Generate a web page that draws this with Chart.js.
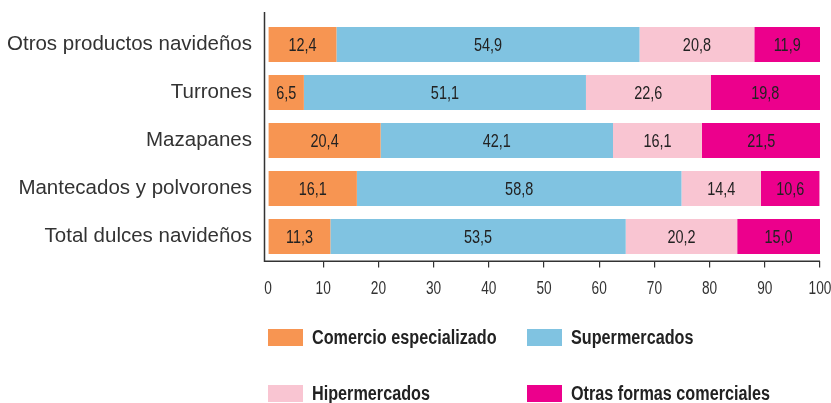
<!DOCTYPE html>
<html>
<head>
<meta charset="utf-8">
<script src="https://cdn.jsdelivr.net/npm/chart.js@4"></script>
<style>
html,body{margin:0;padding:0;background:#fff;}
#wrap{width:831px;height:403px;position:relative;}
</style>
</head>
<body>
<div id="wrap"><canvas id="c" width="831" height="403"></canvas></div>
<script>
const categories = ["Otros productos navideños", "Turrones", "Mazapanes", "Mantecados y polvorones", "Total dulces navideños"];
const seriesNames = ["Comercio especializado", "Supermercados", "Hipermercados", "Otras formas comerciales"];
const comercioEspecializado = [12.4, 6.5, 20.4, 16.1, 11.3];
const supermercados = [54.9, 51.1, 42.1, 58.8, 53.5];
const hipermercados = [20.8, 22.6, 16.1, 14.4, 20.2];
const otrasFormas = [11.9, 19.8, 21.5, 10.6, 15.0];
const xTicks = [0, 10, 20, 30, 40, 50, 60, 70, 80, 90, 100];

const colors = ["#F79552", "#80C3E1", "#F9C5D2", "#EC008C"];
const seriesValues = [comercioEspecializado, supermercados, hipermercados, otrasFormas];

const SANS = "'Liberation Sans', Arial, sans-serif";

// draw horizontally condensed text (imitates a condensed typeface)
function narrowText(ctx, text, x, y, align, squeeze) {
  ctx.save();
  ctx.translate(x, y);
  ctx.scale(squeeze, 1);
  ctx.textAlign = align;
  ctx.fillText(text, 0, 0);
  ctx.restore();
}

const dataLabels = {
  id: 'dataLabels',
  afterDatasetsDraw(chart) {
    const ctx = chart.ctx;
    ctx.save();
    ctx.font = "19px " + SANS;
    ctx.fillStyle = "#222";
    ctx.textBaseline = "middle";
    chart.data.datasets.forEach((ds, i) => {
      const meta = chart.getDatasetMeta(i);
      meta.data.forEach((bar, j) => {
        const v = ds.data[j];
        const cx = (bar.x + bar.base) / 2;
        narrowText(ctx, v.toFixed(1).replace('.', ','), cx, bar.y + 1, 'center', 0.76);
      });
    });
    ctx.restore();
  }
};

const axisPlugin = {
  id: 'axisLines',
  afterDraw(chart) {
    const ctx = chart.ctx;
    const a = chart.chartArea;
    const xs = chart.scales.x;
    ctx.save();
    ctx.strokeStyle = "#333";
    ctx.lineWidth = 1.5;
    ctx.beginPath();
    ctx.moveTo(a.left - 3.5, 12);
    ctx.lineTo(a.left - 3.5, a.bottom + 0.75);
    ctx.lineTo(a.right, a.bottom + 0.75);
    ctx.stroke();
    // x tick labels
    ctx.font = "18px " + SANS;
    ctx.fillStyle = "#333";
    ctx.textBaseline = "middle";
    xs.ticks.forEach((t, i) => {
      const px = xs.getPixelForTick(i);
      narrowText(ctx, String(t.value), px, a.bottom + 29, 'center', 0.76);
    });
    ctx.restore();
  }
};

const legendPlugin = {
  id: 'customLegend',
  afterDraw(chart) {
    const ctx = chart.ctx;
    const colX = [268, 527];
    const rowY = [329, 385];
    ctx.save();
    ctx.font = "bold 20px " + SANS;
    ctx.textBaseline = "middle";
    chart.data.datasets.forEach((ds, i) => {
      const x = colX[i % 2];
      const y = rowY[Math.floor(i / 2)];
      ctx.fillStyle = ds.backgroundColor;
      ctx.fillRect(x, y, 35, 17);
      ctx.fillStyle = "#222";
      narrowText(ctx, ds.label, x + 44, y + 9, 'left', 0.81);
    });
    ctx.restore();
  }
};

new Chart(document.getElementById('c'), {
  type: 'bar',
  data: {
    labels: categories,
    datasets: seriesNames.map((name, i) => ({
      label: name,
      data: seriesValues[i],
      backgroundColor: colors[i],
      borderWidth: 0,
      barPercentage: 35 / 48,
      categoryPercentage: 1
    }))
  },
  options: {
    indexAxis: 'y',
    responsive: false,
    animation: false,
    layout: { padding: { top: 20.5, right: 11, left: 0, bottom: 0 } },
    plugins: { legend: { display: false }, tooltip: { enabled: false } },
    scales: {
      x: {
        stacked: true,
        min: 0,
        max: 100,
        afterBuildTicks(scale) { scale.ticks = xTicks.map(v => ({ value: v })); },
        afterFit(scale) { scale.height = 142.5; scale.paddingLeft = 0; scale.paddingRight = 0; },
        border: { display: false },
        grid: {
          drawOnChartArea: false,
          drawTicks: true,
          tickLength: 7,
          color: (c) => c.index === 0 ? 'rgba(0,0,0,0)' : '#333',
          lineWidth: 1.2
        },
        ticks: { display: false }
      },
      y: {
        stacked: true,
        afterFit(scale) { scale.width = 268; scale.paddingTop = 0; scale.paddingBottom = 0; },
        border: { display: false },
        grid: { display: false, drawTicks: false },
        ticks: {
          font: { family: SANS, size: 20.5 },
          color: '#333',
          padding: 16
        }
      }
    }
  },
  plugins: [dataLabels, axisPlugin, legendPlugin]
});
</script>
</body>
</html>
